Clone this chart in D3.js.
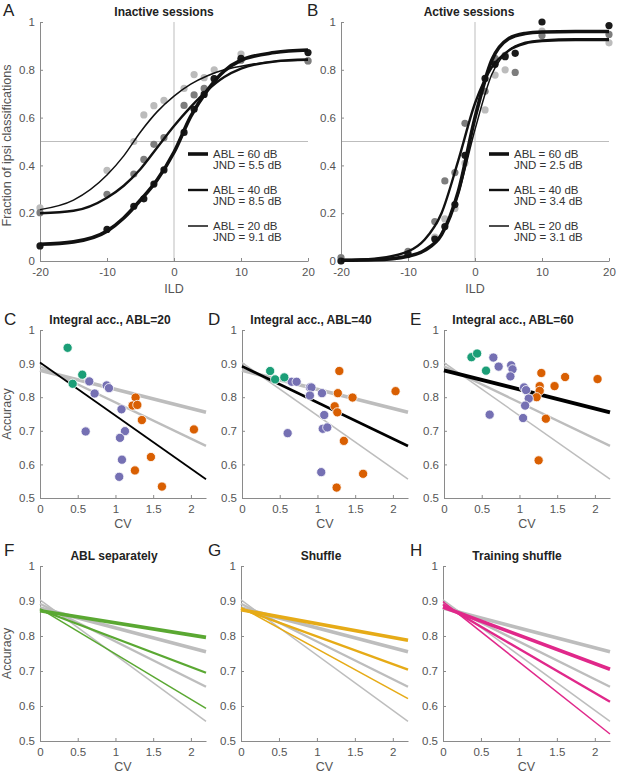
<!DOCTYPE html>
<html>
<head>
<meta charset="utf-8">
<script src="https://cdn.jsdelivr.net/npm/d3@7"></script>
<style>
  body { margin: 0; background: #fff; }
  svg { font-family: 'Liberation Sans', Arial, sans-serif; }
  .axis path, .axis line { stroke: #8a8a8a; }
  .axis text { fill: #555; font-size: 11.5px; }
  .title { font-weight: bold; font-size: 12px; fill: #222; }
  .letter { font-size: 17px; fill: #222; }
  .label { font-size: 12.5px; fill: #555; }
  .legend { font-size: 11.5px; fill: #333; }
</style>
</head>
<body>
<div id="fig"></div>
<script>
// Psychometric data (ILD in dB, fraction ipsi)
const ild = [-20, -10, -6, -4.5, -3, -1.5, 1.5, 3, 4.5, 6, 10, 20]
const inactive60 = [0.063, 0.132, 0.229, 0.26, 0.322, 0.381, 0.538, 0.635, 0.697, 0.763, 0.848, 0.872]
const inactive40 = [0.202, 0.279, 0.364, 0.425, 0.488, 0.516, 0.651, 0.695, 0.722, 0.762, 0.84, 0.837]
const inactive20 = [0.222, 0.379, 0.5, 0.611, 0.65, 0.672, 0.722, 0.78, 0.767, 0.8, 0.866, 0.838]
const active60 = [0.0, 0.028, 0.092, 0.144, 0.236, 0.442, 0.764, 0.823, 0.855, 0.869, 1.0, 0.985]
const active40 = [0.014, 0.04, 0.165, 0.335, 0.37, 0.576, 0.71, 0.848, 0.86, 0.789, 0.943, 0.948]
const active20 = [0.0, 0.03, 0.1, 0.176, 0.22, 0.41, 0.632, 0.778, 0.8, 0.87, 0.962, 0.913]

// Fitted curves, sampled off the figure
const fitIld = [-20, -15, -10, -7.5, -5, -2.5, 0, 2.5, 5, 7.5, 10, 15, 20]
const inactiveFit60 = [0.07, 0.08, 0.125, 0.18, 0.255, 0.34, 0.455, 0.605, 0.715, 0.795, 0.84, 0.872, 0.883]
const inactiveFit40 = [0.2, 0.21, 0.265, 0.315, 0.385, 0.475, 0.565, 0.645, 0.715, 0.77, 0.805, 0.835, 0.843]
const inactiveFit20 = [0.215, 0.255, 0.36, 0.44, 0.54, 0.625, 0.69, 0.74, 0.775, 0.8, 0.815, 0.835, 0.84]
const activeFit60 = [0.003, 0.005, 0.02, 0.045, 0.11, 0.29, 0.6, 0.84, 0.93, 0.952, 0.958, 0.96, 0.96]
const activeFit40 = [0.004, 0.01, 0.04, 0.09, 0.2, 0.42, 0.66, 0.81, 0.88, 0.91, 0.92, 0.925, 0.925]
const activeFit20 = [0.002, 0.005, 0.02, 0.045, 0.11, 0.28, 0.55, 0.78, 0.88, 0.915, 0.925, 0.93, 0.93]

const ablLevels = [60, 40, 20]
const inactiveJND = [5.5, 8.5, 9.1]
const activeJND = [2.5, 3.4, 3.1]

// Accuracy vs CV, [cv, accuracy]
const cGreen = [[0.366, 0.947], [0.56, 0.867], [0.433, 0.84]]
const cPurple = [[0.653, 0.847], [0.724, 0.811], [0.883, 0.835], [0.914, 0.827], [0.605, 0.698], [1.08, 0.764],
  [1.126, 0.699], [1.06, 0.679], [1.086, 0.614], [1.05, 0.563]]
const cOrange = [[1.267, 0.799], [1.227, 0.775], [1.29, 0.777], [1.35, 0.732], [2.04, 0.704], [1.47, 0.622],
  [1.258, 0.582], [1.616, 0.534]]

const dGreen = [[0.373, 0.878], [0.439, 0.853], [0.561, 0.859]]
const dPurple = [[0.658, 0.846], [0.724, 0.846], [0.9, 0.829], [0.92, 0.829], [0.9, 0.805], [1.06, 0.812],
  [1.09, 0.747], [1.07, 0.706], [1.13, 0.71], [0.605, 0.693], [1.05, 0.577]]
const dOrange = [[1.29, 0.878], [1.27, 0.812], [1.465, 0.799], [1.228, 0.773], [1.263, 0.755], [2.035, 0.818],
  [1.35, 0.67], [1.605, 0.572], [1.254, 0.531]]

const eGreen = [[0.364, 0.919], [0.439, 0.93], [0.557, 0.879]]
const ePurple = [[0.654, 0.918], [0.724, 0.891], [0.89, 0.895], [0.908, 0.883], [0.88, 0.862], [1.061, 0.829],
  [1.088, 0.821], [1.123, 0.796], [1.075, 0.775], [1.048, 0.738], [0.605, 0.748]]
const eOrange = [[1.29, 0.872], [1.268, 0.833], [1.268, 0.819], [1.228, 0.8], [1.465, 0.833], [1.605, 0.86],
  [2.035, 0.854], [1.35, 0.736], [1.254, 0.612]]

// Linear fits, accuracy at CV = 0 and CV = 2.2 (ABL 20, 40, 60)
const cvEnds = [0, 2.2]
const integralFit = [[0.903, 0.556], [0.892, 0.655], [0.88, 0.755]]
const ablSepFit = [[0.878, 0.593], [0.875, 0.695], [0.872, 0.796]]
const shuffleFit = [[0.882, 0.621], [0.878, 0.704], [0.875, 0.788]]
const trainShuffleFit = [[0.898, 0.52], [0.89, 0.612], [0.883, 0.705]]

const svg = d3.select('#fig').append('svg')
  .attr('width', 617)
  .attr('height', 779)

const fitWidths = [1.5, 2.4, 3.6] // ABL 20, 40, 60
const grey = '#bdbdbd'
const fmt = d => String(d)

const axes = (g, x, y, box, xTicks, yTicks) => {
  g.append('g')
    .attr('class', 'axis')
    .attr('transform', `translate(0, ${box.bottom})`)
    .call(d3.axisBottom(x).tickValues(xTicks).tickFormat(fmt).tickSize(-3).tickPadding(7).tickSizeOuter(0))
  g.append('g')
    .attr('class', 'axis')
    .attr('transform', `translate(${box.left}, 0)`)
    .call(d3.axisLeft(y).tickValues(yTicks).tickFormat(fmt).tickSize(-3).tickPadding(5).tickSizeOuter(0))
}

const heading = (box, letter, title, lx, ly, tx) => {
  svg.append('text').attr('class', 'letter').attr('x', lx).attr('y', ly).text(letter)
  svg.append('text').attr('class', 'title')
    .attr('x', tx).attr('y', box.top - 6)
    .attr('text-anchor', 'middle').text(title)
}

// Panels A and B
const drawPsycho = (box, points, fits, jnd, letter, title, lx, tx) => {
  const x = d3.scaleLinear().domain([-20, 20]).range([box.left, box.right])
  const y = d3.scaleLinear().domain([0, 1]).range([box.bottom, box.top])
  const g = svg.append('g')

  // reference lines
  g.append('line').attr('x1', x(0)).attr('x2', x(0)).attr('y1', y(0)).attr('y2', y(1))
    .attr('stroke', grey).attr('stroke-width', 1)
  g.append('line').attr('x1', x(-20)).attr('x2', x(20)).attr('y1', y(0.5)).attr('y2', y(0.5))
    .attr('stroke', grey).attr('stroke-width', 1)

  axes(g, x, y, box, [-20, -10, 0, 10, 20], [0, 0.2, 0.4, 0.6, 0.8, 1])

  const dotColors = ['#1a1a1a', '#7d7d7d', '#bcbcbc']
  for (let i = 2; i >= 0; i--) {
    g.append('g').selectAll('circle')
      .data(points[i].map((v, j) => [ild[j], v]))
      .join('circle')
      .attr('cx', d => x(d[0]))
      .attr('cy', d => y(d[1]))
      .attr('r', 3.6)
      .attr('fill', dotColors[i])
  }

  const line = d3.line()
    .x((d, j) => x(fitIld[j]))
    .y(d => y(d))
    .curve(d3.curveMonotoneX)
  fits.forEach((f, i) => {
    g.append('path').datum(f)
      .attr('d', line)
      .attr('fill', 'none')
      .attr('stroke', '#111')
      .attr('stroke-width', fitWidths[2 - i])
  })

  // legend
  const lg = g.append('g')
  ablLevels.forEach((abl, i) => {
    const yy = box.top + 132 + i * 36
    lg.append('line').attr('x1', box.left + 148).attr('x2', box.left + 168)
      .attr('y1', yy).attr('y2', yy)
      .attr('stroke', '#111').attr('stroke-width', fitWidths[2 - i])
    lg.append('text').attr('class', 'legend').attr('x', box.left + 173).attr('y', yy + 4)
      .text(`ABL = ${abl} dB`)
    lg.append('text').attr('class', 'legend').attr('x', box.left + 173).attr('y', yy + 15)
      .text(`JND = ${jnd[i]} dB`)
  })

  svg.append('text').attr('class', 'label')
    .attr('x', (box.left + box.right) / 2).attr('y', box.bottom + 32)
    .attr('text-anchor', 'middle').text('ILD')
  heading(box, letter, title, lx, 16, tx)
}

const boxA = { left: 40, right: 308, top: 22, bottom: 261 }
const boxB = { left: 341, right: 609, top: 22, bottom: 261 }
drawPsycho(boxA, [inactive60, inactive40, inactive20], [inactiveFit60, inactiveFit40, inactiveFit20],
  inactiveJND, 'A', 'Inactive sessions', 3, 164)
drawPsycho(boxB, [active60, active40, active20], [activeFit60, activeFit40, activeFit20],
  activeJND, 'B', 'Active sessions', 307, 469)

svg.append('text').attr('class', 'label')
  .attr('transform', `translate(11, ${(boxA.top + boxA.bottom) / 2 + 4}) rotate(-90)`)
  .attr('text-anchor', 'middle').text('Fraction of ipsi classifications')

// Panels C to H
const drawCV = (box, letter, title, lx, ly, tx, opts) => {
  const x = d3.scaleLinear().domain([0, 2.2]).range([box.left, box.right])
  const y = d3.scaleLinear().domain([0.5, 1]).range([box.bottom, box.top])
  const g = svg.append('g')
  axes(g, x, y, box, [0, 0.5, 1, 1.5, 2], [0.5, 0.6, 0.7, 0.8, 0.9, 1])

  const fitLine = d3.line().x((d, j) => x(cvEnds[j])).y(d => y(d))

  // grey reference fits
  opts.greyFits.forEach(i => {
    g.append('path').datum(integralFit[i])
      .attr('d', fitLine).attr('fill', 'none')
      .attr('stroke', grey).attr('stroke-width', fitWidths[i])
  })
  if (opts.fits) {
    opts.fits.forEach((f, i) => {
      g.append('path').datum(f)
        .attr('d', fitLine).attr('fill', 'none')
        .attr('stroke', opts.color).attr('stroke-width', fitWidths[i])
    })
  }
  if (opts.black != null) {
    g.append('path').datum(integralFit[opts.black])
      .attr('d', fitLine).attr('fill', 'none')
      .attr('stroke', '#000').attr('stroke-width', fitWidths[opts.black] + 0.3)
  }
  if (opts.dots) {
    const groups = [[opts.dots[0], '#d95f02'], [opts.dots[1], '#7570b3'], [opts.dots[2], '#1b9e77']]
    groups.forEach(([pts, col]) => {
      g.append('g').selectAll('circle')
        .data(pts).join('circle')
        .attr('cx', d => x(d[0]))
        .attr('cy', d => y(d[1]))
        .attr('r', 4.6)
        .attr('fill', col)
        .attr('stroke', '#fff')
        .attr('stroke-width', 0.8)
    })
  }

  svg.append('text').attr('class', 'label')
    .attr('x', (box.left + box.right) / 2).attr('y', box.bottom + 30)
    .attr('text-anchor', 'middle').text('CV')
  heading(box, letter, title, lx, ly, tx)
}

const boxC = { left: 40, right: 206, top: 330, bottom: 498 }
const boxD = { left: 242, right: 408, top: 330, bottom: 498 }
const boxE = { left: 444, right: 610, top: 330, bottom: 498 }
drawCV(boxC, 'C', 'Integral acc., ABL=20', 4, 325, 110, { greyFits: [2, 1], black: 0, dots: [cOrange, cPurple, cGreen] })
drawCV(boxD, 'D', 'Integral acc., ABL=40', 208, 325, 311, { greyFits: [2, 0], black: 1, dots: [dOrange, dPurple, dGreen] })
drawCV(boxE, 'E', 'Integral acc., ABL=60', 410, 325, 513, { greyFits: [1, 0], black: 2, dots: [eOrange, ePurple, eGreen] })

const boxF = { left: 40, right: 206, top: 566, bottom: 741 }
const boxG = { left: 241, right: 408, top: 566, bottom: 741 }
const boxH = { left: 443, right: 610, top: 566, bottom: 741 }
drawCV(boxF, 'F', 'ABL separately', 4, 556, 114, { greyFits: [2, 1, 0], fits: ablSepFit, color: '#5aa832' })
drawCV(boxG, 'G', 'Shuffle', 208, 556, 321, { greyFits: [2, 1, 0], fits: shuffleFit, color: '#e6ab17' })
drawCV(boxH, 'H', 'Training shuffle', 410, 556, 517, { greyFits: [2, 1, 0], fits: trainShuffleFit, color: '#e0288a' })

svg.append('text').attr('class', 'label')
  .attr('transform', `translate(11, ${(boxC.top + boxC.bottom) / 2}) rotate(-90)`)
  .attr('text-anchor', 'middle').text('Accuracy')
svg.append('text').attr('class', 'label')
  .attr('transform', `translate(11, ${(boxF.top + boxF.bottom) / 2}) rotate(-90)`)
  .attr('text-anchor', 'middle').text('Accuracy')
</script>
</body>
</html>
